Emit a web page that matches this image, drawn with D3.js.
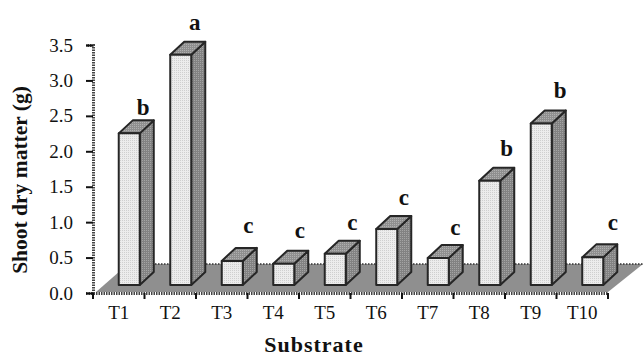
<!DOCTYPE html>
<html>
<head>
<meta charset="utf-8">
<script src="https://cdnjs.cloudflare.com/ajax/libs/d3/7.8.5/d3.min.js"></script>
<style>
    html, body { margin: 0; padding: 0; background: #fff; }
    svg { display: block; }
    text { font-family: "Liberation Serif", serif; fill: #111; }
</style>
</head>
<body>
<svg width="644" height="357"></svg>
<script>
const categories = ["T1", "T2", "T3", "T4", "T5", "T6", "T7", "T8", "T9", "T10"];
const values = [2.14, 3.25, 0.34, 0.30, 0.44, 0.79, 0.38, 1.47, 2.28, 0.39];
const letters = ["b", "a", "c", "c", "c", "c", "c", "b", "b", "c"];
const yTicks = [0, 0.5, 1, 1.5, 2, 2.5, 3, 3.5];

const svg = d3.select("svg");

const x = d3.scaleBand().domain(categories).range([93, 608]);
const y = d3.scaleLinear().domain([0, 3.5]).range([293, 45]);

// 3d offsets, px
const front = { dx: 10.5, dy: -8 };
const depth = { dx: 14, dy: -13 };
const floorDepth = { dx: 35, dy: -29 };
const barW = 21;
// how far each letter floats over its bar, and its sideways nudge
const letterGap = [18, 25, 28, 26, 24, 24, 23, 25, 25, 27];
const letterNudge = [0, 0, 2, 2, 3, 3, 3, 3, 5, 6];

// dotted fills
const defs = svg.append("defs");
function dots(id, bg, fg) {
    const p = defs.append("pattern").attr("id", id)
        .attr("width", 2).attr("height", 2)
        .attr("patternUnits", "userSpaceOnUse");
    p.append("rect").attr("width", 2).attr("height", 2).attr("fill", bg);
    p.append("rect").attr("width", 1).attr("height", 1).attr("fill", fg);
}
dots("frontFill", "#ececec", "#cfcfcf");
dots("sideFill", "#828282", "#a4a4a4");
dots("topFill", "#8f8f8f", "#b0b0b0");

const pts = a => a.map(p => p.join(",")).join(" ");

// floor
const x0 = x.range()[0], x1 = x.range()[1], y0 = y(0);
svg.append("polygon")
    .attr("points", pts([[x0 + 3, y0 - 1], [x1, y0 - 1], [x1 + floorDepth.dx, y0 + floorDepth.dy], [x0 + floorDepth.dx, y0 + floorDepth.dy]]))
    .attr("fill", "#8f8f8f");
svg.append("line")
    .attr("x1", x0 + floorDepth.dx).attr("x2", x1 + floorDepth.dx)
    .attr("y1", y0 + floorDepth.dy).attr("y2", y0 + floorDepth.dy)
    .attr("stroke", "#333").attr("stroke-width", 1.5).attr("stroke-dasharray", "1.5 1.5");

// bars
const bars = svg.append("g").selectAll("g")
    .data(categories)
    .enter()
    .append("g")
    .attr("stroke", "#262626")
    .attr("stroke-width", 2)
    .attr("stroke-linejoin", "round");

const left = (d) => x(d) + x.bandwidth() / 2 + front.dx - barW / 2;
const base = () => y(0) + front.dy;
const topY = (d, i) => y(values[i]) + front.dy;

bars.append("polygon")
    .attr("fill", "url(#sideFill)")
    .attr("points", (d, i) => pts([
        [left(d) + barW, topY(d, i)],
        [left(d) + barW + depth.dx, topY(d, i) + depth.dy],
        [left(d) + barW + depth.dx, base() + depth.dy],
        [left(d) + barW, base()]
    ]));
bars.append("polygon")
    .attr("fill", "url(#topFill)")
    .attr("points", (d, i) => pts([
        [left(d), topY(d, i)],
        [left(d) + depth.dx, topY(d, i) + depth.dy],
        [left(d) + barW + depth.dx, topY(d, i) + depth.dy],
        [left(d) + barW, topY(d, i)]
    ]));
bars.append("rect")
    .attr("fill", "url(#frontFill)")
    .attr("x", d => left(d))
    .attr("y", (d, i) => topY(d, i))
    .attr("width", barW)
    .attr("height", (d, i) => base() - topY(d, i));

// significance letters
svg.append("g").selectAll("text")
    .data(categories)
    .enter()
    .append("text")
    .attr("x", (d, i) => left(d) + barW / 2 + 14 + letterNudge[i])
    .attr("y", (d, i) => topY(d, i) - letterGap[i])
    .attr("text-anchor", "middle")
    .attr("font-weight", "bold")
    .attr("font-size", 23)
    .text((d, i) => letters[i]);

// axes
const yAxis = d3.axisLeft(y).tickValues(yTicks).tickFormat(d3.format(".1f")).tickSize(7).tickPadding(13);
const gy = svg.append("g").attr("transform", "translate(" + x0 + ",0)").call(yAxis);
const xAxis = d3.axisBottom(x).tickSize(0).tickPadding(13);
const gx = svg.append("g").attr("transform", "translate(0," + y0 + ")").call(xAxis);

gy.selectAll("text").attr("font-size", 19).attr("font-family", "Liberation Serif").attr("fill", "#111");
gx.selectAll("text").attr("font-size", 19).attr("font-family", "Liberation Serif").attr("fill", "#111");
gy.selectAll(".tick line").attr("stroke", "#111").attr("stroke-width", 2);
gy.select(".domain").attr("stroke", "#444").attr("stroke-width", 3).attr("stroke-dasharray", "1.5 1");
gx.select(".domain").attr("stroke", "#444").attr("stroke-width", 3).attr("stroke-dasharray", "1.5 1");

// x ticks sit on the band edges
svg.append("g").selectAll("line")
    .data(categories.concat(["end"]))
    .enter()
    .append("line")
    .attr("x1", (d, i) => x0 + i * x.step())
    .attr("x2", (d, i) => x0 + i * x.step())
    .attr("y1", y0)
    .attr("y2", y0 + 6)
    .attr("stroke", "#111")
    .attr("stroke-width", 2);

// titles
svg.append("text")
    .attr("x", 314).attr("y", 352)
    .attr("text-anchor", "middle")
    .attr("font-weight", "bold")
    .attr("font-size", 22)
    .attr("letter-spacing", 1)
    .text("Substrate");
svg.append("text")
    .attr("transform", "translate(27,180) rotate(-90)")
    .attr("text-anchor", "middle")
    .attr("font-weight", "bold")
    .attr("font-size", 21.5)
    .text("Shoot dry matter (g)");
</script>
</body>
</html>
